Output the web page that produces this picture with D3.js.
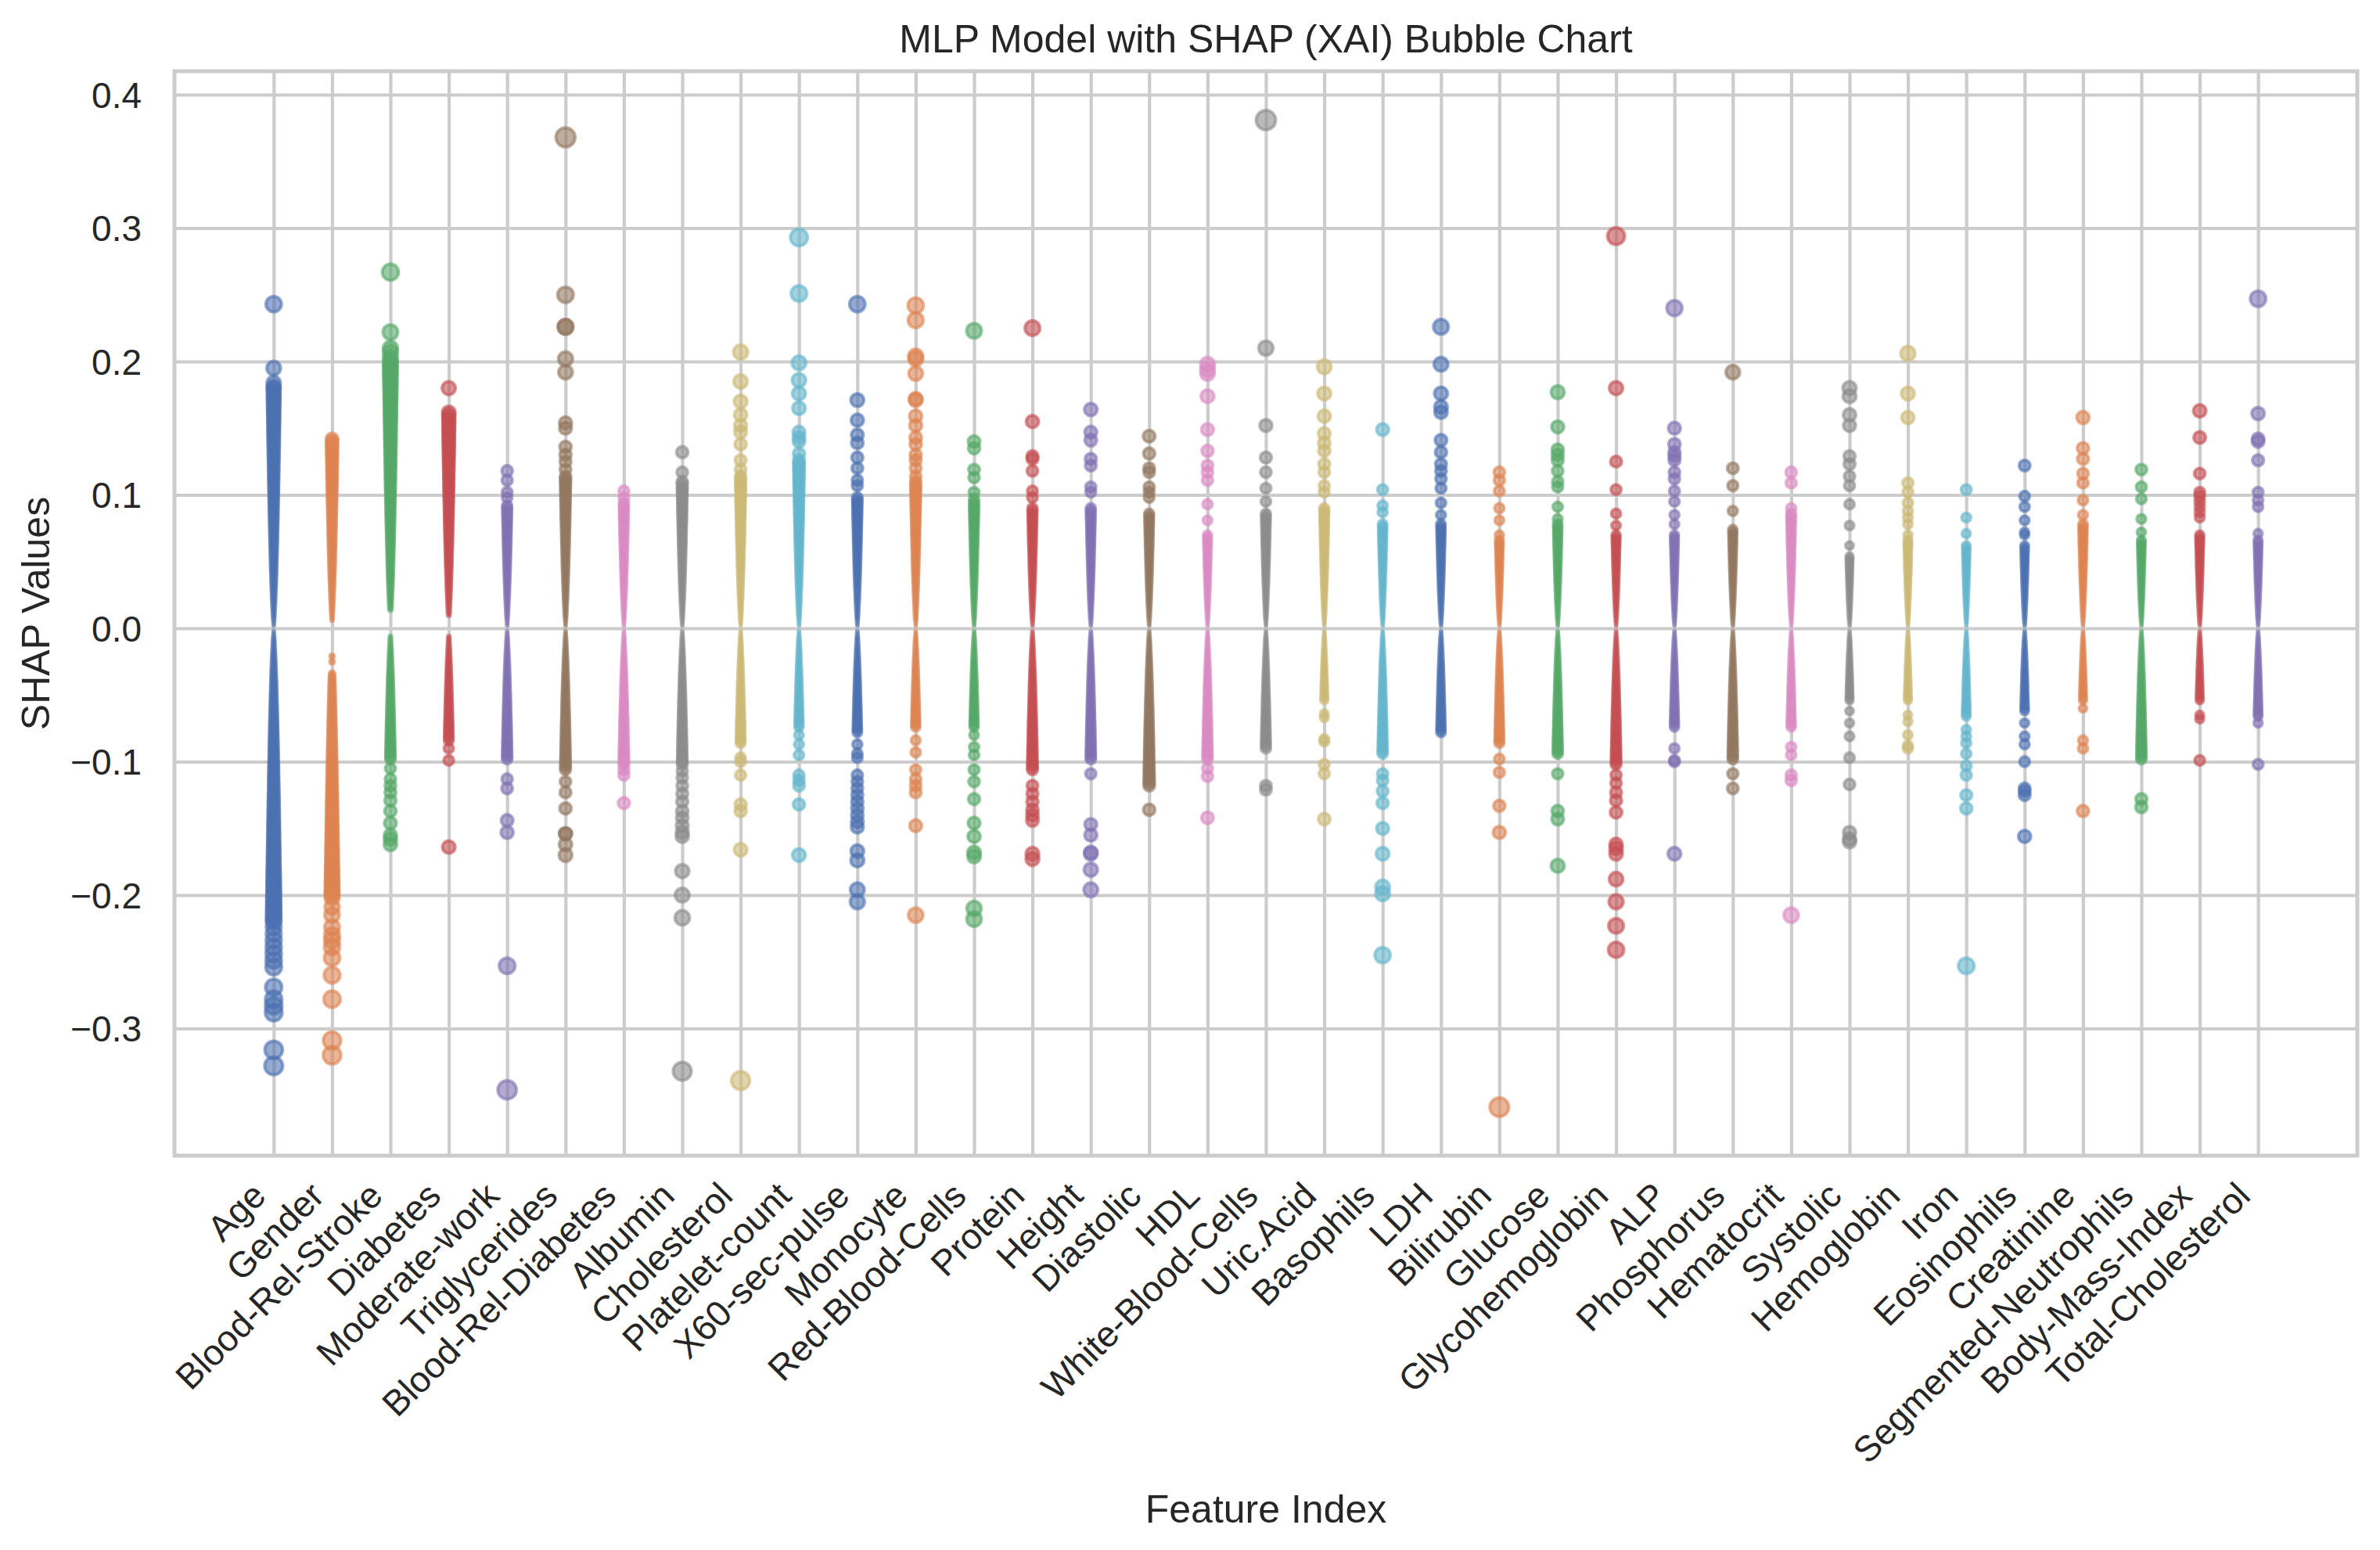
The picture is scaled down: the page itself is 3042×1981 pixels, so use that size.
<!DOCTYPE html>
<html><head><meta charset="utf-8">
<script src="https://cdn.jsdelivr.net/npm/d3@7"></script>
<style>body{margin:0;background:#fff}svg{display:block}</style>
</head><body>
<script>
// ---------------- DATA ----------------
const features = ["Age","Gender","Blood-Rel-Stroke","Diabetes","Moderate-work","Triglycerides","Blood-Rel-Diabetes","Albumin","Cholesterol","Platelet-count","X60-sec-pulse","Monocyte","Red-Blood-Cells","Protein","Height","Diastolic","HDL","White-Blood-Cells","Uric.Acid","Basophils","LDH","Bilirubin","Glucose","Glycohemoglobin","ALP","Phosphorus","Hematocrit","Systolic","Hemoglobin","Iron","Eosinophils","Creatinine","Segmented-Neutrophils","Body-Mass-Index","Total-Cholesterol"];
const yTickValues = [-0.3,-0.2,-0.1,0.0,0.1,0.2,0.3,0.4];
const palette = ["#4C72B0","#DD8452","#55A868","#C44E52","#8172B3","#937860","#DA8BC3","#8C8C8C","#CCB974","#64B5CD"];

const vAge = [.243,.195,.184,.181,
 .180,.178,.176,.174,.172,.170,.168,.166,.164,.162,.160,.158,.156,.154,.152,.150,.148,.146,.144,.142,.140,.138,.136,.134,.132,.130,.128,.126,.124,.122,.120,.118,.116,.114,.112,.110,.108,.106,.104,.102,.100,.098,.096,.094,.092,.090,.088,.086,.084,.082,.080,.078,.076,.074,.072,.070,.068,.066,.064,.062,.060,.058,.056,.054,.052,.050,.048,.046,.044,.042,.040,.038,.036,.034,.032,.030,.028,.026,.024,.022,.020,.018,.016,.014,.012,.010,.008,.006,.004,.002,
 -.002,-.004,-.006,-.008,-.010,-.012,-.014,-.016,-.018,-.020,-.022,-.024,-.026,-.028,-.030,-.032,-.034,-.036,-.038,-.040,-.042,-.044,-.046,-.048,-.050,-.052,-.054,-.056,-.058,-.060,-.062,-.064,-.066,-.068,-.070,-.072,-.074,-.076,-.078,-.080,-.082,-.084,-.086,-.088,-.090,-.092,-.094,-.096,-.098,-.100,-.102,-.104,-.106,-.108,-.110,-.112,-.114,-.116,-.118,-.120,-.122,-.124,-.126,-.128,-.130,-.132,-.134,-.136,-.138,-.140,-.142,-.144,-.146,-.148,-.150,-.152,-.154,-.156,-.158,-.160,-.162,-.164,-.166,-.168,-.170,-.172,-.174,-.176,-.178,-.180,-.182,-.184,-.186,-.188,-.190,-.192,-.194,-.196,-.198,-.200,-.202,-.204,-.206,-.208,-.210,-.212,-.214,-.216,-.218,-.220,
 -.224,-.229,-.234,-.239,-.244,-.249,-.254,-.269,-.278,-.283,-.288,-.316,-.328];
const vGender = [.142,.140,.138,.136,.134,.132,.130,.128,.126,.124,.122,.120,.118,.116,.114,.112,.110,.108,.106,.104,.102,.100,.098,.096,.094,.092,.090,.088,.086,.084,.082,.080,.078,.076,.074,.072,.070,.068,.066,.064,.062,.060,.058,.056,.054,.052,.050,.048,.046,.044,.042,.040,.038,.036,.034,.032,.030,.028,.026,.024,.022,.020,.018,.016,.014,.012,.010,.008,.006,
 -.021,-.025,
 -.034,-.036,-.038,-.040,-.042,-.044,-.046,-.048,-.050,-.052,-.054,-.056,-.058,-.060,-.062,-.064,-.066,-.068,-.070,-.072,-.074,-.076,-.078,-.080,-.082,-.084,-.086,-.088,-.090,-.092,-.094,-.096,-.098,-.100,-.102,-.104,-.106,-.108,-.110,-.112,-.114,-.116,-.118,-.120,-.122,-.124,-.126,-.128,-.130,-.132,-.134,-.136,-.138,-.140,-.142,-.144,-.146,-.148,-.150,-.152,-.154,-.156,-.158,-.160,-.162,-.164,-.166,-.168,-.170,-.172,-.174,-.176,-.178,-.180,-.182,-.184,-.186,-.188,-.190,-.192,-.194,-.196,-.198,-.200,-.202,
 -.209,-.215,-.224,-.230,-.234,-.239,-.247,-.260,-.278,-.309,-.320];
const vBloodRelStroke = [.267,.222,.210,.207,.203,
 .200,.198,.196,.194,.192,.190,.188,.186,.184,.182,.180,.178,.176,.174,.172,.170,.168,.166,.164,.162,.160,.158,.156,.154,.152,.150,.148,.146,.144,.142,.140,.138,.136,.134,.132,.130,.128,.126,.124,.122,.120,.118,.116,.114,.112,.110,.108,.106,.104,.102,.100,.098,.096,.094,.092,.090,.088,.086,.084,.082,.080,.078,.076,.074,.072,.070,.068,.066,.064,.062,.060,.058,.056,.054,.052,.050,.048,.046,.044,.042,.040,.038,.036,.034,.032,.030,.028,.026,.024,.022,.020,.018,.016,.014,
 -.006,-.008,-.010,-.012,-.014,-.016,-.018,-.020,-.022,-.024,-.026,-.028,-.030,-.032,-.034,-.036,-.038,-.040,-.042,-.044,-.046,-.048,-.050,-.052,-.054,-.056,-.058,-.060,-.062,-.064,-.066,-.068,-.070,-.072,-.074,-.076,-.078,-.080,-.082,-.084,-.086,-.088,-.090,-.092,-.094,-.096,-.098,
 -.105,-.113,-.118,-.123,-.129,-.137,-.146,-.155,-.158,-.162];
const vDiabetes = [.180,
 .162,.160,.158,.156,.154,.152,.150,.148,.146,.144,.142,.140,.138,.136,.134,.132,.130,.128,.126,.124,.122,.120,.118,.116,.114,.112,.110,.108,.106,.104,.102,.100,.098,.096,.094,.092,.090,.088,.086,.084,.082,.080,.078,.076,.074,.072,.070,.068,.066,.064,.062,.060,.058,.056,.054,.052,.050,.048,.046,.044,.042,.040,.038,.036,.034,.032,.030,.028,.026,.024,.022,.020,.018,.016,.014,.012,.010,
 -.006,-.008,-.010,-.012,-.014,-.016,-.018,-.020,-.022,-.024,-.026,-.028,-.030,-.032,-.034,-.036,-.038,-.040,-.042,-.044,-.046,-.048,-.050,-.052,-.054,-.056,-.058,-.060,-.062,-.064,-.066,-.068,-.070,-.072,-.074,-.076,-.078,-.080,-.082,-.084,
 -.090,-.099,-.164];
const vModerateWork = [.118,.111,.102,.098,
 .092,.090,.088,.086,.084,.082,.080,.078,.076,.074,.072,.070,.068,.066,.064,.062,.060,.058,.056,.054,.052,.050,.048,.046,.044,.042,.040,.038,.036,.034,.032,.030,.028,.026,.024,.022,.020,.018,.016,.014,.012,.010,.008,.006,.004,.002,
 -.002,-.004,-.006,-.008,-.010,-.012,-.014,-.016,-.018,-.020,-.022,-.024,-.026,-.028,-.030,-.032,-.034,-.036,-.038,-.040,-.042,-.044,-.046,-.048,-.050,-.052,-.054,-.056,-.058,-.060,-.062,-.064,-.066,-.068,-.070,-.072,-.074,-.076,-.078,-.080,-.082,-.084,-.086,-.088,-.090,-.092,-.094,-.096,-.098,
 -.113,-.120,-.144,-.153,-.253,-.346];
const vTriglycerides = [.368,.250,.226,.226,.202,.192,.154,.150,.136,.130,.125,.119,
 .114,.112,.110,.108,.106,.104,.102,.100,.098,.096,.094,.092,.090,.088,.086,.084,.082,.080,.078,.076,.074,.072,.070,.068,.066,.064,.062,.060,.058,.056,.054,.052,.050,.048,.046,.044,.042,.040,.038,.036,.034,.032,.030,.028,.026,.024,.022,.020,.018,.016,.014,.012,.010,.008,.006,.004,.002,
 -.002,-.004,-.006,-.008,-.010,-.012,-.014,-.016,-.018,-.020,-.022,-.024,-.026,-.028,-.030,-.032,-.034,-.036,-.038,-.040,-.042,-.044,-.046,-.048,-.050,-.052,-.054,-.056,-.058,-.060,-.062,-.064,-.066,-.068,-.070,-.072,-.074,-.076,-.078,-.080,-.082,-.084,-.086,-.088,-.090,-.092,-.094,-.096,-.098,-.100,-.102,-.104,-.106,
 -.115,-.123,-.135,-.154,-.154,-.162,-.170];
const vBloodRelDiabetes = [.103,.098,
 .094,.092,.090,.088,.086,.084,.082,.080,.078,.076,.074,.072,.070,.068,.066,.064,.062,.060,.058,.056,.054,.052,.050,.048,.046,.044,.042,.040,.038,.036,.034,.032,.030,.028,.026,.024,.022,.020,.018,.016,.014,.012,.010,.008,.006,.004,.002,
 -.002,-.004,-.006,-.008,-.010,-.012,-.014,-.016,-.018,-.020,-.022,-.024,-.026,-.028,-.030,-.032,-.034,-.036,-.038,-.040,-.042,-.044,-.046,-.048,-.050,-.052,-.054,-.056,-.058,-.060,-.062,-.064,-.066,-.068,-.070,-.072,-.074,-.076,-.078,-.080,-.082,-.084,-.086,-.088,-.090,-.092,-.094,-.096,-.098,-.100,-.102,
 -.106,-.110,-.131];
const vAlbumin = [.132,.117,
 .110,.108,.106,.104,.102,.100,.098,.096,.094,.092,.090,.088,.086,.084,.082,.080,.078,.076,.074,.072,.070,.068,.066,.064,.062,.060,.058,.056,.054,.052,.050,.048,.046,.044,.042,.040,.038,.036,.034,.032,.030,.028,.026,.024,.022,.020,.018,.016,.014,.012,.010,.008,.006,.004,.002,
 -.002,-.004,-.006,-.008,-.010,-.012,-.014,-.016,-.018,-.020,-.022,-.024,-.026,-.028,-.030,-.032,-.034,-.036,-.038,-.040,-.042,-.044,-.046,-.048,-.050,-.052,-.054,-.056,-.058,-.060,-.062,-.064,-.066,-.068,-.070,-.072,-.074,-.076,-.078,-.080,-.082,-.084,-.086,-.088,-.090,-.092,-.094,-.096,-.098,-.100,-.102,
 -.107,-.112,-.118,-.124,-.130,-.137,-.142,-.148,-.153,-.156,-.182,-.200,-.217,-.332];
const vCholesterol = [.207,.185,.170,.160,.152,.147,.138,.126,.119,
 .114,.112,.110,.108,.106,.104,.102,.100,.098,.096,.094,.092,.090,.088,.086,.084,.082,.080,.078,.076,.074,.072,.070,.068,.066,.064,.062,.060,.058,.056,.054,.052,.050,.048,.046,.044,.042,.040,.038,.036,.034,.032,.030,.028,.026,.024,.022,.020,.018,.016,.014,.012,.010,.008,.006,.004,.002,
 -.002,-.004,-.006,-.008,-.010,-.012,-.014,-.016,-.018,-.020,-.022,-.024,-.026,-.028,-.030,-.032,-.034,-.036,-.038,-.040,-.042,-.044,-.046,-.048,-.050,-.052,-.054,-.056,-.058,-.060,-.062,-.064,-.066,-.068,-.070,-.072,-.074,-.076,-.078,-.080,-.082,-.084,-.086,
 -.097,-.100,-.110,-.132,-.137,-.166,-.339];
const vPlateletCount = [.293,.251,.199,.186,.176,.165,.147,.143,.140,.131,
 .126,.124,.122,.120,.118,.116,.114,.112,.110,.108,.106,.104,.102,.100,.098,.096,.094,.092,.090,.088,.086,.084,.082,.080,.078,.076,.074,.072,.070,.068,.066,.064,.062,.060,.058,.056,.054,.052,.050,.048,.046,.044,.042,.040,.038,.036,.034,.032,.030,.028,.026,.024,.022,.020,.018,.016,.014,.012,.010,.008,.006,.004,.002,
 -.002,-.004,-.006,-.008,-.010,-.012,-.014,-.016,-.018,-.020,-.022,-.024,-.026,-.028,-.030,-.032,-.034,-.036,-.038,-.040,-.042,-.044,-.046,-.048,-.050,-.052,-.054,-.056,-.058,-.060,-.062,-.064,-.066,-.068,-.070,-.072,-.074,
 -.080,-.087,-.095,-.110,-.114,-.118,-.132,-.170];
const vX60SecPulse = [.243,.171,.156,.145,.139,.128,.120,.111,.107,
 .098,.096,.094,.092,.090,.088,.086,.084,.082,.080,.078,.076,.074,.072,.070,.068,.066,.064,.062,.060,.058,.056,.054,.052,.050,.048,.046,.044,.042,.040,.038,.036,.034,.032,.030,.028,.026,.024,.022,.020,.018,.016,.014,.012,.010,.008,.006,.004,.002,
 -.002,-.004,-.006,-.008,-.010,-.012,-.014,-.016,-.018,-.020,-.022,-.024,-.026,-.028,-.030,-.032,-.034,-.036,-.038,-.040,-.042,-.044,-.046,-.048,-.050,-.052,-.054,-.056,-.058,-.060,-.062,-.064,-.066,-.068,-.070,-.072,-.074,-.076,-.078,
 -.087,-.094,-.097,-.110,-.115,-.120,-.125,-.130,-.135,-.140,-.145,-.149,-.167,-.174,-.196,-.205];
const vMonocyte = [.242,.231,.204,.202,.191,.172,.171,.159,.152,.143,.138,.130,.126,.120,.114,
 .110,.108,.106,.104,.102,.100,.098,.096,.094,.092,.090,.088,.086,.084,.082,.080,.078,.076,.074,.072,.070,.068,.066,.064,.062,.060,.058,.056,.054,.052,.050,.048,.046,.044,.042,.040,.038,.036,.034,.032,.030,.028,.026,.024,.022,.020,.018,.016,.014,.012,.010,.008,.006,.004,.002,
 -.002,-.004,-.006,-.008,-.010,-.012,-.014,-.016,-.018,-.020,-.022,-.024,-.026,-.028,-.030,-.032,-.034,-.036,-.038,-.040,-.042,-.044,-.046,-.048,-.050,-.052,-.054,-.056,-.058,-.060,-.062,-.064,-.066,-.068,-.070,-.072,-.074,
 -.084,-.093,-.106,-.113,-.118,-.123,-.148,-.215];
const vRedBloodCells = [.223,.140,.135,.119,.113,.102,.097,
 .094,.092,.090,.088,.086,.084,.082,.080,.078,.076,.074,.072,.070,.068,.066,.064,.062,.060,.058,.056,.054,.052,.050,.048,.046,.044,.042,.040,.038,.036,.034,.032,.030,.028,.026,.024,.022,.020,.018,.016,.014,.012,.010,.008,.006,.004,.002,
 -.002,-.004,-.006,-.008,-.010,-.012,-.014,-.016,-.018,-.020,-.022,-.024,-.026,-.028,-.030,-.032,-.034,-.036,-.038,-.040,-.042,-.044,-.046,-.048,-.050,-.052,-.054,-.056,-.058,-.060,-.062,-.064,-.066,-.068,-.070,-.072,-.074,
 -.080,-.089,-.095,-.106,-.115,-.128,-.146,-.156,-.168,-.171,-.210,-.218];
const vProtein = [.225,.155,.129,.127,.118,.103,.098,
 .090,.088,.086,.084,.082,.080,.078,.076,.074,.072,.070,.068,.066,.064,.062,.060,.058,.056,.054,.052,.050,.048,.046,.044,.042,.040,.038,.036,.034,.032,.030,.028,.026,.024,.022,.020,.018,.016,.014,.012,.010,.008,.006,.004,.002,
 -.002,-.004,-.006,-.008,-.010,-.012,-.014,-.016,-.018,-.020,-.022,-.024,-.026,-.028,-.030,-.032,-.034,-.036,-.038,-.040,-.042,-.044,-.046,-.048,-.050,-.052,-.054,-.056,-.058,-.060,-.062,-.064,-.066,-.068,-.070,-.072,-.074,-.076,-.078,-.080,-.082,-.084,-.086,-.088,-.090,-.092,-.094,-.096,-.098,-.100,-.102,-.104,-.106,
 -.118,-.124,-.130,-.136,-.140,-.144,-.169,-.173];
const vHeight = [.164,.147,.141,.127,.122,.106,.102,
 .090,.088,.086,.084,.082,.080,.078,.076,.074,.072,.070,.068,.066,.064,.062,.060,.058,.056,.054,.052,.050,.048,.046,.044,.042,.040,.038,.036,.034,.032,.030,.028,.026,.024,.022,.020,.018,.016,.014,.012,.010,.008,.006,.004,.002,
 -.002,-.004,-.006,-.008,-.010,-.012,-.014,-.016,-.018,-.020,-.022,-.024,-.026,-.028,-.030,-.032,-.034,-.036,-.038,-.040,-.042,-.044,-.046,-.048,-.050,-.052,-.054,-.056,-.058,-.060,-.062,-.064,-.066,-.068,-.070,-.072,-.074,-.076,-.078,-.080,-.082,-.084,-.086,-.088,-.090,-.092,-.094,-.096,-.098,
 -.109,-.147,-.155,-.168,-.169,-.181,-.196];
const vDiastolic = [.144,.131,.120,.117,.106,.102,.098,
 .086,.084,.082,.080,.078,.076,.074,.072,.070,.068,.066,.064,.062,.060,.058,.056,.054,.052,.050,.048,.046,.044,.042,.040,.038,.036,.034,.032,.030,.028,.026,.024,.022,.020,.018,.016,.014,.012,.010,.008,.006,.004,.002,
 -.002,-.004,-.006,-.008,-.010,-.012,-.014,-.016,-.018,-.020,-.022,-.024,-.026,-.028,-.030,-.032,-.034,-.036,-.038,-.040,-.042,-.044,-.046,-.048,-.050,-.052,-.054,-.056,-.058,-.060,-.062,-.064,-.066,-.068,-.070,-.072,-.074,-.076,-.078,-.080,-.082,-.084,-.086,-.088,-.090,-.092,-.094,-.096,-.098,-.100,-.102,-.104,-.106,-.108,-.110,-.112,-.114,-.116,-.118,
 -.136];
const vHDL = [.198,.194,.191,.174,.149,.133,.122,.117,.111,.093,.081,
 .070,.068,.066,.064,.062,.060,.058,.056,.054,.052,.050,.048,.046,.044,.042,.040,.038,.036,.034,.032,.030,.028,.026,.024,.022,.020,.018,.016,.014,.012,.010,.008,.006,.004,.002,
 -.002,-.004,-.006,-.008,-.010,-.012,-.014,-.016,-.018,-.020,-.022,-.024,-.026,-.028,-.030,-.032,-.034,-.036,-.038,-.040,-.042,-.044,-.046,-.048,-.050,-.052,-.054,-.056,-.058,-.060,-.062,-.064,-.066,-.068,-.070,-.072,-.074,-.076,-.078,-.080,-.082,-.084,-.086,-.088,-.090,-.092,-.094,-.096,-.098,
 -.105,-.111,-.142];
const vWhiteBloodCells = [.381,.210,.152,.128,.117,.105,.095,
 .086,.084,.082,.080,.078,.076,.074,.072,.070,.068,.066,.064,.062,.060,.058,.056,.054,.052,.050,.048,.046,.044,.042,.040,.038,.036,.034,.032,.030,.028,.026,.024,.022,.020,.018,.016,.014,.012,.010,.008,.006,.004,.002,
 -.002,-.004,-.006,-.008,-.010,-.012,-.014,-.016,-.018,-.020,-.022,-.024,-.026,-.028,-.030,-.032,-.034,-.036,-.038,-.040,-.042,-.044,-.046,-.048,-.050,-.052,-.054,-.056,-.058,-.060,-.062,-.064,-.066,-.068,-.070,-.072,-.074,-.076,-.078,-.080,-.082,-.084,-.086,-.088,-.090,
 -.118,-.121];
const vUricAcid = [.196,.176,.159,.146,.139,.133,.123,.117,.107,.102,
 .090,.088,.086,.084,.082,.080,.078,.076,.074,.072,.070,.068,.066,.064,.062,.060,.058,.056,.054,.052,.050,.048,.046,.044,.042,.040,.038,.036,.034,.032,.030,.028,.026,.024,.022,.020,.018,.016,.014,.012,.010,.008,.006,.004,.002,
 -.002,-.004,-.006,-.008,-.010,-.012,-.014,-.016,-.018,-.020,-.022,-.024,-.026,-.028,-.030,-.032,-.034,-.036,-.038,-.040,-.042,-.044,-.046,-.048,-.050,-.052,-.054,
 -.064,-.067,-.083,-.085,-.102,-.109,-.143];
const vBasophils = [.149,.104,.092,.087,
 .078,.076,.074,.072,.070,.068,.066,.064,.062,.060,.058,.056,.054,.052,.050,.048,.046,.044,.042,.040,.038,.036,.034,.032,.030,.028,.026,.024,.022,.020,.018,.016,.014,.012,.010,.008,.006,.004,.002,
 -.002,-.004,-.006,-.008,-.010,-.012,-.014,-.016,-.018,-.020,-.022,-.024,-.026,-.028,-.030,-.032,-.034,-.036,-.038,-.040,-.042,-.044,-.046,-.048,-.050,-.052,-.054,-.056,-.058,-.060,-.062,-.064,-.066,-.068,-.070,-.072,-.074,-.076,-.078,-.080,-.082,-.084,-.086,-.088,-.090,-.092,-.094,
 -.109,-.114,-.122,-.131,-.150,-.169,-.194,-.199,-.245];
const vLDH = [.226,.198,.176,.166,.162,.141,.132,.123,.118,.112,.105,.094,.085,
 .078,.076,.074,.072,.070,.068,.066,.064,.062,.060,.058,.056,.054,.052,.050,.048,.046,.044,.042,.040,.038,.036,.034,.032,.030,.028,.026,.024,.022,.020,.018,.016,.014,.012,.010,.008,.006,.004,.002,
 -.002,-.004,-.006,-.008,-.010,-.012,-.014,-.016,-.018,-.020,-.022,-.024,-.026,-.028,-.030,-.032,-.034,-.036,-.038,-.040,-.042,-.044,-.046,-.048,-.050,-.052,-.054,-.056,-.058,-.060,-.062,-.064,-.066,-.068,-.070,-.072,-.074,-.076,-.078];
const vBilirubin = [.117,.111,.103,.090,.081,.070,
 .066,.064,.062,.060,.058,.056,.054,.052,.050,.048,.046,.044,.042,.040,.038,.036,.034,.032,.030,.028,.026,.024,.022,.020,.018,.016,.014,.012,.010,.008,.006,.004,.002,
 -.002,-.004,-.006,-.008,-.010,-.012,-.014,-.016,-.018,-.020,-.022,-.024,-.026,-.028,-.030,-.032,-.034,-.036,-.038,-.040,-.042,-.044,-.046,-.048,-.050,-.052,-.054,-.056,-.058,-.060,-.062,-.064,-.066,-.068,-.070,-.072,-.074,-.076,-.078,-.080,-.082,-.084,-.086,
 -.098,-.108,-.133,-.153,-.359];
const vGlucose = [.177,.151,.134,.130,.126,.118,.110,.106,.091,.082,
 .078,.076,.074,.072,.070,.068,.066,.064,.062,.060,.058,.056,.054,.052,.050,.048,.046,.044,.042,.040,.038,.036,.034,.032,.030,.028,.026,.024,.022,.020,.018,.016,.014,.012,.010,.008,.006,.004,.002,
 -.002,-.004,-.006,-.008,-.010,-.012,-.014,-.016,-.018,-.020,-.022,-.024,-.026,-.028,-.030,-.032,-.034,-.036,-.038,-.040,-.042,-.044,-.046,-.048,-.050,-.052,-.054,-.056,-.058,-.060,-.062,-.064,-.066,-.068,-.070,-.072,-.074,-.076,-.078,-.080,-.082,-.084,-.086,-.088,-.090,-.092,-.094,
 -.109,-.137,-.143,-.178];
const vGlycohemoglobin = [.294,.180,.125,.104,.086,.077,
 .070,.068,.066,.064,.062,.060,.058,.056,.054,.052,.050,.048,.046,.044,.042,.040,.038,.036,.034,.032,.030,.028,.026,.024,.022,.020,.018,.016,.014,.012,.010,.008,.006,.004,.002,
 -.002,-.004,-.006,-.008,-.010,-.012,-.014,-.016,-.018,-.020,-.022,-.024,-.026,-.028,-.030,-.032,-.034,-.036,-.038,-.040,-.042,-.044,-.046,-.048,-.050,-.052,-.054,-.056,-.058,-.060,-.062,-.064,-.066,-.068,-.070,-.072,-.074,-.076,-.078,-.080,-.082,-.084,-.086,-.088,-.090,-.092,-.094,-.096,-.098,-.100,-.102,
 -.110,-.116,-.123,-.129,-.138,-.162,-.165,-.169,-.188,-.205,-.223,-.241];
const vALP = [.240,.150,.138,.132,.129,.126,.117,.112,.103,.095,.085,.078,
 .070,.068,.066,.064,.062,.060,.058,.056,.054,.052,.050,.048,.046,.044,.042,.040,.038,.036,.034,.032,.030,.028,.026,.024,.022,.020,.018,.016,.014,.012,.010,.008,.006,.004,.002,
 -.002,-.004,-.006,-.008,-.010,-.012,-.014,-.016,-.018,-.020,-.022,-.024,-.026,-.028,-.030,-.032,-.034,-.036,-.038,-.040,-.042,-.044,-.046,-.048,-.050,-.052,-.054,-.056,-.058,-.060,-.062,-.064,-.066,-.068,-.070,-.072,-.074,
 -.090,-.099,-.100,-.169];
const vPhosphorus = [.192,.120,.107,.088,
 .074,.072,.070,.068,.066,.064,.062,.060,.058,.056,.054,.052,.050,.048,.046,.044,.042,.040,.038,.036,.034,.032,.030,.028,.026,.024,.022,.020,.018,.016,.014,.012,.010,.008,.006,.004,.002,
 -.002,-.004,-.006,-.008,-.010,-.012,-.014,-.016,-.018,-.020,-.022,-.024,-.026,-.028,-.030,-.032,-.034,-.036,-.038,-.040,-.042,-.044,-.046,-.048,-.050,-.052,-.054,-.056,-.058,-.060,-.062,-.064,-.066,-.068,-.070,-.072,-.074,-.076,-.078,-.080,-.082,-.084,-.086,-.088,-.090,-.092,-.094,-.096,-.098,
 -.109,-.120];
const vHematocrit = [.117,.109,.090,
 .086,.084,.082,.080,.078,.076,.074,.072,.070,.068,.066,.064,.062,.060,.058,.056,.054,.052,.050,.048,.046,.044,.042,.040,.038,.036,.034,.032,.030,.028,.026,.024,.022,.020,.018,.016,.014,.012,.010,.008,.006,.004,.002,
 -.002,-.004,-.006,-.008,-.010,-.012,-.014,-.016,-.018,-.020,-.022,-.024,-.026,-.028,-.030,-.032,-.034,-.036,-.038,-.040,-.042,-.044,-.046,-.048,-.050,-.052,-.054,-.056,-.058,-.060,-.062,-.064,-.066,-.068,-.070,-.072,-.074,
 -.089,-.095,-.110,-.114,-.215];
const vSystolic = [.180,.174,.160,.152,.129,.123,.114,.107,.093,.077,.062,
 .054,.052,.050,.048,.046,.044,.042,.040,.038,.036,.034,.032,.030,.028,.026,.024,.022,.020,.018,.016,.014,.012,.010,.008,.006,.004,.002,
 -.002,-.004,-.006,-.008,-.010,-.012,-.014,-.016,-.018,-.020,-.022,-.024,-.026,-.028,-.030,-.032,-.034,-.036,-.038,-.040,-.042,-.044,-.046,-.048,-.050,-.052,-.054,
 -.062,-.071,-.081,-.097,-.117,-.153,-.158,-.160];
const vHemoglobin = [.206,.176,.158,.109,.102,.094,.088,.083,.078,.070,
 .066,.064,.062,.060,.058,.056,.054,.052,.050,.048,.046,.044,.042,.040,.038,.036,.034,.032,.030,.028,.026,.024,.022,.020,.018,.016,.014,.012,.010,.008,.006,.004,.002,
 -.002,-.004,-.006,-.008,-.010,-.012,-.014,-.016,-.018,-.020,-.022,-.024,-.026,-.028,-.030,-.032,-.034,-.036,-.038,-.040,-.042,-.044,-.046,-.048,-.050,-.052,-.054,
 -.065,-.070,-.080,-.088,-.090];
const vIron = [.104,.083,.071,
 .062,.060,.058,.056,.054,.052,.050,.048,.046,.044,.042,.040,.038,.036,.034,.032,.030,.028,.026,.024,.022,.020,.018,.016,.014,.012,.010,.008,.006,.004,.002,
 -.002,-.004,-.006,-.008,-.010,-.012,-.014,-.016,-.018,-.020,-.022,-.024,-.026,-.028,-.030,-.032,-.034,-.036,-.038,-.040,-.042,-.044,-.046,-.048,-.050,-.052,-.054,-.056,-.058,-.060,-.062,-.064,-.066,
 -.076,-.081,-.086,-.094,-.103,-.110,-.125,-.135,-.253];
const vEosinophils = [.122,.099,.091,.081,.072,.070,
 .062,.060,.058,.056,.054,.052,.050,.048,.046,.044,.042,.040,.038,.036,.034,.032,.030,.028,.026,.024,.022,.020,.018,.016,.014,.012,.010,.008,.006,.004,.002,
 -.002,-.004,-.006,-.008,-.010,-.012,-.014,-.016,-.018,-.020,-.022,-.024,-.026,-.028,-.030,-.032,-.034,-.036,-.038,-.040,-.042,-.044,-.046,-.048,-.050,-.052,-.054,-.056,-.058,-.060,-.062,
 -.071,-.081,-.087,-.100,-.120,-.122,-.125,-.156];
const vCreatinine = [.158,.135,.127,.116,.109,.096,.085,
 .078,.076,.074,.072,.070,.068,.066,.064,.062,.060,.058,.056,.054,.052,.050,.048,.046,.044,.042,.040,.038,.036,.034,.032,.030,.028,.026,.024,.022,.020,.018,.016,.014,.012,.010,.008,.006,.004,.002,
 -.002,-.004,-.006,-.008,-.010,-.012,-.014,-.016,-.018,-.020,-.022,-.024,-.026,-.028,-.030,-.032,-.034,-.036,-.038,-.040,-.042,-.044,-.046,-.048,-.050,-.052,-.054,
 -.060,-.084,-.090,-.137];
const vSegmentedNeutrophils = [.119,.106,.097,.082,.072,
 .066,.064,.062,.060,.058,.056,.054,.052,.050,.048,.046,.044,.042,.040,.038,.036,.034,.032,.030,.028,.026,.024,.022,.020,.018,.016,.014,.012,.010,.008,.006,.004,.002,
 -.002,-.004,-.006,-.008,-.010,-.012,-.014,-.016,-.018,-.020,-.022,-.024,-.026,-.028,-.030,-.032,-.034,-.036,-.038,-.040,-.042,-.044,-.046,-.048,-.050,-.052,-.054,-.056,-.058,-.060,-.062,-.064,-.066,-.068,-.070,-.072,-.074,-.076,-.078,-.080,-.082,-.084,-.086,-.088,-.090,-.092,-.094,-.096,-.098,
 -.128,-.134];
const vBodyMassIndex = [.163,.143,.116,.102,.099,.095,.091,.087,.083,
 .070,.068,.066,.064,.062,.060,.058,.056,.054,.052,.050,.048,.046,.044,.042,.040,.038,.036,.034,.032,.030,.028,.026,.024,.022,.020,.018,.016,.014,.012,.010,.008,.006,.004,.002,
 -.002,-.004,-.006,-.008,-.010,-.012,-.014,-.016,-.018,-.020,-.022,-.024,-.026,-.028,-.030,-.032,-.034,-.036,-.038,-.040,-.042,-.044,-.046,-.048,-.050,-.052,-.054,
 -.065,-.068,-.099];
const vTotalCholesterol = [.247,.161,.142,.140,.126,.102,.096,.091,.071,
 .066,.064,.062,.060,.058,.056,.054,.052,.050,.048,.046,.044,.042,.040,.038,.036,.034,.032,.030,.028,.026,.024,.022,.020,.018,.016,.014,.012,.010,.008,.006,.004,.002,
 -.002,-.004,-.006,-.008,-.010,-.012,-.014,-.016,-.018,-.020,-.022,-.024,-.026,-.028,-.030,-.032,-.034,-.036,-.038,-.040,-.042,-.044,-.046,-.048,-.050,-.052,-.054,-.056,-.058,-.060,-.062,-.064,-.066,
 -.071,-.102];

const shapValues = [vAge,vGender,vBloodRelStroke,vDiabetes,vModerateWork,vTriglycerides,vBloodRelDiabetes,vAlbumin,vCholesterol,vPlateletCount,vX60SecPulse,vMonocyte,vRedBloodCells,vProtein,vHeight,vDiastolic,vHDL,vWhiteBloodCells,vUricAcid,vBasophils,vLDH,vBilirubin,vGlucose,vGlycohemoglobin,vALP,vPhosphorus,vHematocrit,vSystolic,vHemoglobin,vIron,vEosinophils,vCreatinine,vSegmentedNeutrophils,vBodyMassIndex,vTotalCholesterol];

// ---------------- CHART ----------------
const W = 3042, H = 1981;
const L = 223, R = 3013, T = 91, B = 1477;
const FONT = "'Liberation Sans', Arial, Helvetica, sans-serif";
const TXT = "#262626", GRID = "#cccccc";

const svg = d3.select("body").append("svg").attr("width", W).attr("height", H)
  .style("font-family", FONT);
svg.append("rect").attr("width", W).attr("height", H).attr("fill", "#fff");

const x = d3.scaleLinear().domain([-1.7, features.length - 1 + 1.7]).range([L, R]);
const y = d3.scaleLinear().domain([-0.3953, 0.4176]).range([B, T]);
const rScale = d3.scaleSqrt().domain([0, 1]).range([0, 20.25]);
const fmt = v => (v < 0 ? "\u2212" : "") + Math.abs(v).toFixed(1);

// y axis (grid + labels)
const gy = svg.append("g").attr("transform", `translate(${L},0)`)
  .call(d3.axisLeft(y).tickValues(yTickValues).tickFormat(fmt).tickSize(-(R - L)).tickPadding(42));
gy.select(".domain").remove();
gy.selectAll(".tick line").attr("stroke", GRID).attr("stroke-width", 4.2);
gy.selectAll(".tick text").attr("fill", TXT).attr("font-size", 46).attr("font-family", FONT).attr("dy", "0.35em");

// x axis (grid + labels)
const gx = svg.append("g").attr("transform", `translate(0,${B})`)
  .call(d3.axisBottom(x).tickValues(d3.range(features.length)).tickFormat(i => features[i]).tickSize(-(B - T)).tickPadding(0));
gx.select(".domain").remove();
gx.selectAll(".tick line").attr("stroke", GRID).attr("stroke-width", 4.2);
gx.selectAll(".tick text").attr("fill", TXT).attr("font-size", 46).attr("font-family", FONT)
  .attr("y", null).attr("dy", null).attr("text-anchor", "end")
  .attr("transform", "translate(-8,54) rotate(-45)");

// points
const pts = [];
shapValues.forEach((vals, i) => vals.forEach(v => pts.push({i, v})));
svg.append("g").selectAll("circle").data(pts).join("circle")
  .attr("cx", d => x(d.i))
  .attr("cy", d => y(d.v))
  .attr("r", d => rScale(Math.abs(d.v)))
  .attr("fill", d => palette[d.i % 10]).attr("fill-opacity", 0.6)
  .attr("stroke", d => palette[d.i % 10]).attr("stroke-opacity", 0.6)
  .attr("stroke-width", 4);

// spines
svg.append("rect").attr("x", L).attr("y", T).attr("width", R - L).attr("height", B - T)
  .attr("fill", "none").attr("stroke", GRID).attr("stroke-width", 5);

// title and axis labels
svg.append("text").attr("x", (L + R) / 2).attr("y", 67).attr("text-anchor", "middle")
  .attr("font-size", 50).attr("fill", TXT).text("MLP Model with SHAP (XAI) Bubble Chart");
svg.append("text").attr("x", (L + R) / 2).attr("y", 1946).attr("text-anchor", "middle")
  .attr("font-size", 50).attr("fill", TXT).text("Feature Index");
svg.append("text").attr("transform", `translate(63,${(T + B) / 2}) rotate(-90)`).attr("text-anchor", "middle")
  .attr("font-size", 50).attr("fill", TXT).text("SHAP Values");
</script>
</body></html>
